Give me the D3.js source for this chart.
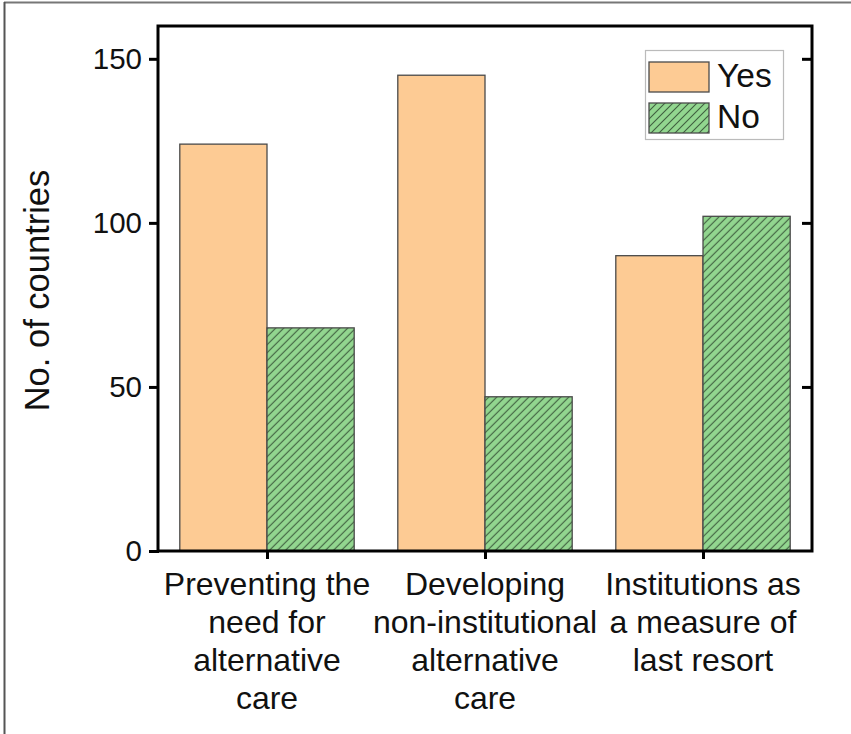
<!DOCTYPE html>
<html>
<head>
<meta charset="utf-8">
<script src="https://cdn.jsdelivr.net/npm/d3@7"></script>
<style>
html,body{margin:0;padding:0;background:#fff;}
svg{display:block;}
text{font-family:"Liberation Sans",Arial,sans-serif;fill:#111;}
</style>
</head>
<body>
<svg id="chart" width="851" height="734"></svg>
<script>
const categories = [
  ["Preventing the","need for","alternative","care"],
  ["Developing","non-institutional","alternative","care"],
  ["Institutions as","a measure of","last resort"]
];
const seriesNames = ["Yes","No"];
const yesValues = [124, 145, 90];
const noValues = [68, 47, 102];
const yTicks = [0, 50, 100, 150];
const yTitle = "No. of countries";

const svg = d3.select("#chart");
const W = 851, H = 734;
const m = {left:158, right:812, top:26, bottom:551};

// figure border
svg.append("line").attr("x1",4).attr("x2",W).attr("y1",2.5).attr("y2",2.5).attr("stroke","#777").attr("stroke-width",2);
svg.append("line").attr("x1",4.5).attr("x2",4.5).attr("y1",2).attr("y2",H).attr("stroke","#555").attr("stroke-width",2);

const defs = svg.append("defs");
const pat = defs.append("pattern").attr("id","hatch").attr("patternUnits","userSpaceOnUse")
  .attr("width",8).attr("height",8);
pat.append("rect").attr("width",8).attr("height",8).attr("fill","#92d68f");
pat.append("path").attr("d","M-2,2 L2,-2 M0,8 L8,0 M6,10 L10,6").attr("stroke","#3f5f3f").attr("stroke-width",1.1);

const idx = categories.map((d,i)=>i);
const x0 = d3.scaleBand().domain(idx).range([m.left, m.right]).paddingInner(0.2).paddingOuter(0.1);
const x1 = d3.scaleBand().domain(seriesNames).range([0, x0.bandwidth()]);
const y = d3.scaleLinear().domain([0,160]).range([m.bottom, m.top]);

const data = idx.map(i => ({i, vals:[{k:"Yes",v:yesValues[i]},{k:"No",v:noValues[i]}]}));
const g = svg.append("g");
g.selectAll("g.grp").data(data).enter().append("g")
  .attr("transform", d=>`translate(${x0(d.i)},0)`)
  .selectAll("rect").data(d=>d.vals).enter().append("rect")
  .attr("x", d=>x1(d.k)).attr("width", x1.bandwidth())
  .attr("y", d=>y(d.v)).attr("height", d=>y(0)-y(d.v))
  .attr("fill", d=>d.k==="Yes" ? "#fdcb94" : "url(#hatch)")
  .attr("stroke","#4a4a4a").attr("stroke-width",1.3);

// axes
const axL = svg.append("g").attr("transform",`translate(${m.left},0)`)
  .call(d3.axisLeft(y).tickValues(yTicks).tickSize(9).tickPadding(6));
axL.select(".domain").remove();
axL.selectAll(".tick line").attr("stroke","#000").attr("stroke-width",3).attr("x2",-9).attr("x1",1);
axL.selectAll(".tick text").attr("font-size",29.5).attr("font-family","Liberation Sans, Arial, sans-serif").attr("fill","#111").attr("dx",-1);

const axR = svg.append("g").attr("transform",`translate(${m.right},0)`)
  .call(d3.axisLeft(y).tickValues(yTicks.filter(v=>v>0)).tickSize(10).tickFormat(""));
axR.select(".domain").remove();
axR.selectAll(".tick line").attr("stroke","#000").attr("stroke-width",3);

const xc = i => x0(i) + x0.bandwidth()/2;
const axB = svg.append("g").attr("transform",`translate(0,${m.bottom})`)
  .call(d3.axisBottom(d3.scalePoint().domain(idx).range([xc(0), xc(2)])).tickSize(8).tickFormat(""));
axB.select(".domain").remove();
axB.selectAll(".tick line").attr("stroke","#000").attr("stroke-width",3);

// frame
svg.append("rect").attr("x",m.left).attr("y",m.top).attr("width",m.right-m.left).attr("height",m.bottom-m.top)
  .attr("fill","none").attr("stroke","#000").attr("stroke-width",3);

// x labels
categories.forEach((lines,i)=>{
  const t = svg.append("text").attr("text-anchor","middle").attr("font-size",32);
  lines.forEach((ln,j)=>{
    t.append("tspan").attr("x", xc(i)).attr("y", 595 + j*38).text(ln);
  });
});

// y title
svg.append("text").attr("transform",`translate(49,${(m.top+m.bottom)/2+2}) rotate(-90)`)
  .attr("text-anchor","middle").attr("font-size",34.5).text(yTitle);

// legend
const lg = svg.append("g");
lg.append("rect").attr("x",645.5).attr("y",50.5).attr("width",138).attr("height",89)
  .attr("fill","#fff").attr("stroke","#bbb").attr("stroke-width",1.2);
seriesNames.forEach((s,j)=>{
  lg.append("rect").attr("x",649).attr("y",62+j*41).attr("width",60).attr("height",30)
    .attr("fill", s==="Yes" ? "#fdcb94" : "url(#hatch)").attr("stroke","#4a4a4a").attr("stroke-width",1.3);
  lg.append("text").attr("x",717).attr("y",87+j*41).attr("font-size",33.5).text(s);
});
</script>
</body>
</html>
